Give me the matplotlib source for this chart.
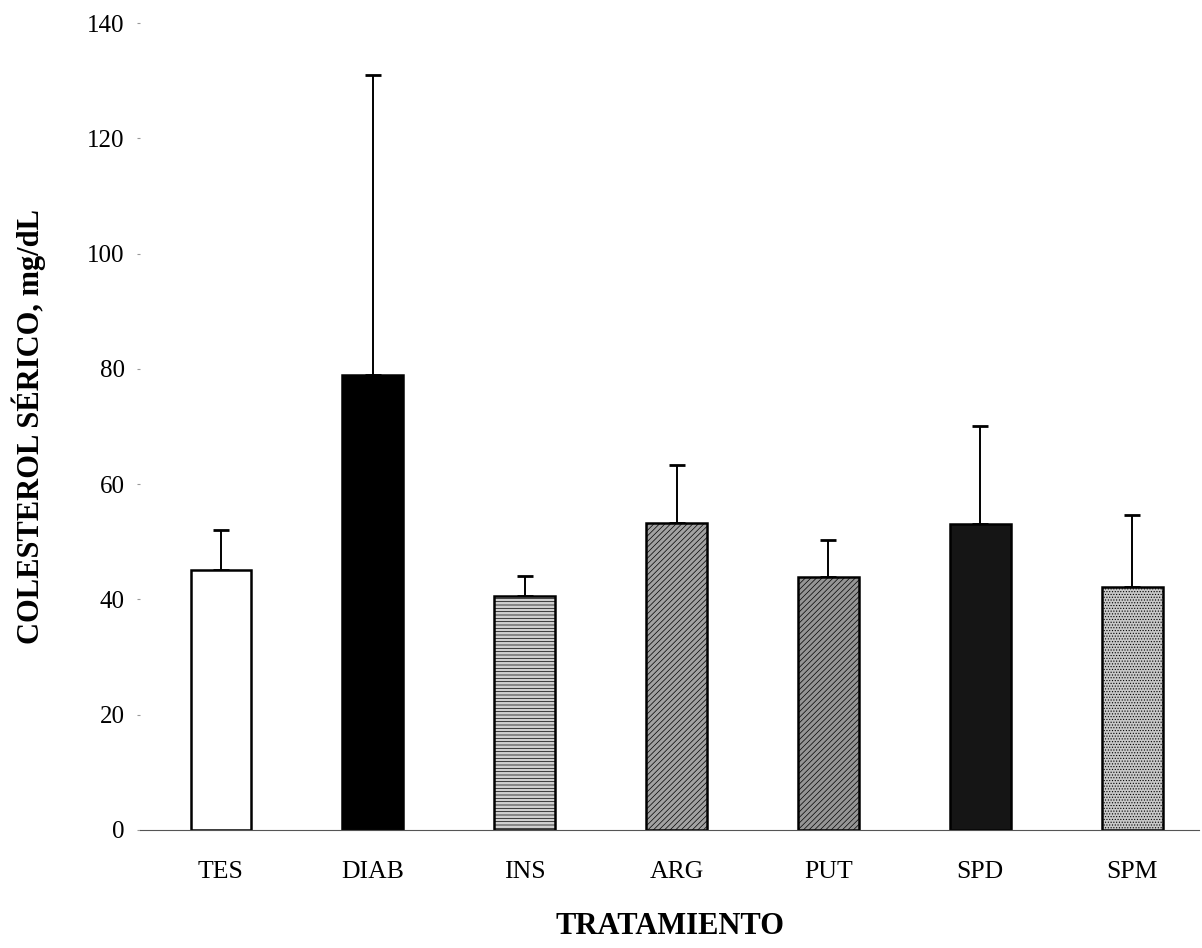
import matplotlib
matplotlib.use("Agg")
import matplotlib.pyplot as plt

# data
tratamientos = ["TES", "DIAB", "INS", "ARG", "PUT", "SPD", "SPM"]
colesterol = [45.1, 78.9, 40.6, 53.2, 43.9, 53.0, 42.2]
error_sup = [6.9, 52.0, 3.4, 10.1, 6.4, 17.1, 12.4]

colores = ["white", "black", "#d0d0d0", "#a2a2a2", "#959595", "#151515", "#c8c8c8"]
tramas = ["", "", "-----", "//////", "//////", "", "......"]

def main():
  plt.rcParams["font.family"] = ["Liberation Serif", "DejaVu Serif"]
  plt.rcParams["hatch.linewidth"] = 0.5

  fig = plt.figure(figsize=(12.02, 9.48), dpi=100)
  ax = fig.add_axes([0.1165, 0.1245, 0.881, 0.8512])

  x = list(range(len(tratamientos)))
  bars = ax.bar(x, colesterol, width=0.4, color=colores, edgecolor="black",
                linewidth=1.8, zorder=2)
  for b, h in zip(bars, tramas):
    if h:
      b.set_hatch(h)

  ax.errorbar(x, colesterol, yerr=[[0] * len(x), error_sup], fmt="none",
              ecolor="black", elinewidth=1.4, capsize=6, capthick=2, zorder=1)

  ax.set_ylim(0, 140)
  ax.set_xlim(-0.533, 6.44)
  ax.set_yticks(range(0, 141, 20))
  ax.set_xticks(x)
  ax.set_xticklabels(tratamientos)

  for s in ["top", "right", "left"]:
    ax.spines[s].set_visible(False)
  ax.spines["bottom"].set_color("#555555")
  ax.spines["bottom"].set_linewidth(0.8)

  ax.tick_params(axis="y", length=2, color="#999999", labelsize=18, pad=9)
  ax.tick_params(axis="x", length=0, labelsize=18.5, pad=22)

  ax.set_ylabel("COLESTEROL SÉRICO, mg/dL", fontsize=22, fontweight="bold",
                labelpad=30)
  ax.set_xlabel("TRATAMIENTO", fontsize=22, fontweight="bold", labelpad=21)

  fig.savefig("out.png", dpi=100)

if __name__ == "__main__":
  main()
